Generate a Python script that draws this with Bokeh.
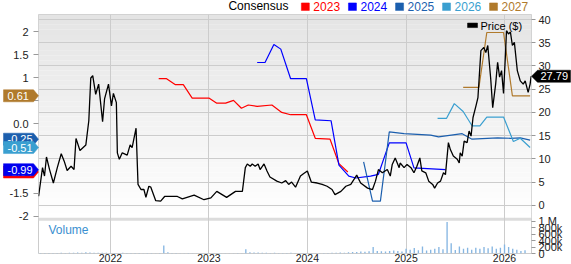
import numpy as np
from datetime import datetime
from bokeh.plotting import figure
from bokeh.models import (Range1d, LinearAxis, FixedTicker, DatetimeTickFormatter,
                          BoxAnnotation)
from bokeh.core.properties import value
from bokeh.embed import file_html
from bokeh.resources import INLINE

# ---------------- data ----------------
price_t = [2021.27, 2021.31, 2021.33, 2021.35, 2021.38, 2021.42, 2021.46, 2021.50, 2021.53, 2021.56,
           2021.60, 2021.63, 2021.65, 2021.69, 2021.75, 2021.78, 2021.80, 2021.82, 2021.85, 2021.88,
           2021.92, 2021.94, 2021.98, 2022.01, 2022.03, 2022.06, 2022.07, 2022.09, 2022.12, 2022.17,
           2022.20, 2022.22, 2022.26, 2022.28, 2022.31, 2022.34, 2022.36, 2022.39, 2022.41, 2022.46,
           2022.51, 2022.55, 2022.61, 2022.68, 2022.73, 2022.85, 2022.95, 2023.02, 2023.08, 2023.18,
           2023.27, 2023.34, 2023.37, 2023.39, 2023.42, 2023.44, 2023.47, 2023.50, 2023.52, 2023.56,
           2023.59, 2023.62, 2023.69, 2023.74, 2023.78, 2023.81, 2023.84, 2023.88, 2023.93, 2023.96,
           2024.00, 2024.04, 2024.10, 2024.15, 2024.20, 2024.25, 2024.28, 2024.34, 2024.39, 2024.44,
           2024.50, 2024.54, 2024.61, 2024.66, 2024.69, 2024.72, 2024.76, 2024.81, 2024.84, 2024.86,
           2024.89, 2024.93, 2024.94, 2024.98, 2025.01, 2025.05, 2025.08, 2025.11, 2025.14, 2025.16,
           2025.20, 2025.23, 2025.27, 2025.29, 2025.32, 2025.35, 2025.38, 2025.40, 2025.43, 2025.45,
           2025.48, 2025.52, 2025.54, 2025.55, 2025.57, 2025.59, 2025.62, 2025.64, 2025.66, 2025.68,
           2025.71, 2025.73, 2025.76, 2025.79, 2025.81, 2025.83, 2025.86, 2025.88, 2025.91, 2025.93,
           2025.95, 2025.97, 2025.99, 2026.01, 2026.02, 2026.04, 2026.06, 2026.08, 2026.10, 2026.13,
           2026.16, 2026.19, 2026.21, 2026.24, 2026.26, 2026.27]
price_v = [1.95, 8.1, 6.3, 10.4, 7.8, 4.8, 8.1, 11.1, 9.5, 7.5,
           8.4, 7.7, 14.4, 11.8, 13.0, 18.2, 27.4, 27.9, 23.9, 26.1,
           18.0, 22.9, 26.1, 21.4, 24.1, 22.1, 11.3, 9.9, 11.3, 10.8,
           13.0, 12.4, 16.6, 4.5, 3.4, 3.4, 1.7, 4.1, 3.9, 1.0,
           0.9, 1.9, 1.9, 1.9, 1.4, 2.2, 1.2, 1.6, 3.0, 1.7,
           3.0, 3.0, 8.1, 8.9, 8.4, 8.9, 8.4, 8.9, 7.7, 8.9,
           7.4, 6.1, 5.2, 4.8, 5.3, 4.5, 5.0, 3.9, 6.3, 6.8,
           7.4, 5.0, 4.8, 4.5, 4.1, 3.4, 2.3, 3.0, 4.1, 4.5,
           6.5, 4.8, 3.7, 3.4, 5.2, 7.7, 7.0, 7.7, 6.3, 8.8,
           10.2, 8.1, 9.1, 8.1, 8.8, 8.1, 7.0, 8.4, 10.2, 7.4,
           7.0, 5.2, 4.5, 3.7, 4.8, 5.2, 7.0, 6.6, 13.5, 12.0,
           10.6, 9.9, 9.1, 11.3, 10.6, 13.8, 13.5, 16.0, 14.9, 18.9,
           21.4, 23.2, 33.3, 34.0, 32.9, 34.4, 27.2, 21.0, 26.1, 30.8,
           27.6, 29.0, 24.1, 32.6, 37.6, 36.9, 37.3, 34.4, 35.1, 29.0,
           26.8, 26.1, 26.8, 24.3, 26.1, 27.79]

c2023_t = [2022.49, 2022.57, 2022.66, 2022.74, 2022.83, 2023.00, 2023.08, 2023.17, 2023.25, 2023.33,
           2023.40, 2023.49, 2023.64, 2023.74, 2023.83, 2023.99, 2024.08, 2024.23, 2024.32, 2024.41]
c2023_v = [0.98, 0.98, 0.85, 0.85, 0.56, 0.56, 0.45, 0.45, 0.51, 0.34,
           0.41, 0.38, 0.41, 0.25, 0.20, 0.20, -0.31, -0.33, -0.86, -1.04]
c2024_t = [2023.49, 2023.57, 2023.66, 2023.73, 2023.83, 2023.99, 2024.08, 2024.24, 2024.32, 2024.42,
           2024.49, 2024.64, 2024.72, 2024.83, 2025.00, 2025.08, 2025.40]
c2024_v = [1.33, 1.33, 1.72, 1.62, 0.98, 0.98, 0.09, 0.07, -0.89, -1.13,
           -1.17, -1.13, -1.09, -0.41, -0.41, -0.95, -0.99]
c2025_t = [2024.57, 2024.66, 2024.74, 2024.83, 2024.98, 2025.25, 2025.33, 2025.57, 2025.67, 2025.93,
           2026.06, 2026.16, 2026.26]
c2025_v = [-0.82, -1.67, -1.67, -0.17, -0.21, -0.24, -0.28, -0.21, -0.33, -0.30,
           -0.31, -0.30, -0.35]
c2026_t = [2025.32, 2025.41, 2025.49, 2025.58, 2025.67, 2025.75, 2025.82, 2025.99, 2026.09, 2026.16, 2026.26]
c2026_v = [0.12, 0.12, 0.44, 0.27, -0.04, -0.04, 0.15, 0.15, -0.38, -0.31, -0.51]
c2027_t = [2025.58, 2025.74, 2025.82, 2025.99, 2026.08, 2026.26]
c2027_v = [0.79, 0.79, 1.98, 1.98, 0.61, 0.61]

# volume, semi-monthly from 2021.25 (thousands of shares)
vol_start = 2021.25
vol_k = [20, 15, 12, 18, 15, 12, 20, 18, 25, 20, 30, 25,
         40, 30, 25, 20, 25, 20, 18, 15, 18, 20, 18, 15,
         15, 12, 10, 12, 15, 10, 12, 250, 40, 15, 12, 10,
         10, 12, 10, 8, 10, 12, 10, 10, 12, 10, 10, 8,
         10, 12, 10, 130, 40, 30, 35, 25, 20, 15, 20, 15,
         15, 12, 20, 15, 12, 15, 10, 12, 15, 10, 12, 15,
         20, 25, 30, 25, 40, 50, 45, 60, 55, 70, 200, 80,
         70, 60, 80, 90, 75, 60, 150, 120, 170, 100, 220, 90,
         120, 150, 200, 130, 980, 320, 110, 220, 150, 180, 120, 180,
         150, 200, 160, 220, 150, 180, 280, 200, 150, 120, 80, 100]

consensus = [("2023", c2023_t, c2023_v, "#ff0000"),
             ("2024", c2024_t, c2024_v, "#0000ff"),
             ("2025", c2025_t, c2025_v, "#1c5fae"),
             ("2026", c2026_t, c2026_v, "#3a9fd0"),
             ("2027", c2027_t, c2027_v, "#b07a2c")]

# badge text, badge position (EPS), colour; later entries are drawn on top
badges_left = [("0.61", 0.61, "#b07a2c"), ("-0.25", -0.33, "#1c5fae"), ("-0.51", -0.51, "#3a9fd0"),
               ("-1.04", -1.04, "#ff0000"), ("-0.99", -0.99, "#0000ee")]
last_price_txt = "27.79"

year_ticks = [2022, 2023, 2024, 2025, 2026]
eps_ticks = [-2, -1.5, -1, -0.5, 0, 0.5, 1, 1.5, 2]
eps_labels = {-2: "-2", -1.5: "-1.5", -1: "", -0.5: "", 0: "0.0", 0.5: "", 1: "1", 1.5: "1.5", 2: "2"}
price_ticks = [0, 5, 10, 15, 20, 25, 30, 35, 40]
vol_ticks = [0, 200000, 400000, 600000, 800000, 1000000]
vol_tick_text = ["0", "200k", "400k", "600k", "800k", "1 M"]

# ---------------- layout (pixel geometry of the reference) ----------------
FONT = "Liberation Sans"
W, H = 571, 264
FR_L, FR_R, FR_T, FR_B = 38, 531, 14, 252          # frame edges in canvas px
PANEL_B = 217                                         # bottom of price panel
X0_PX, PX_PER_YEAR = 110, 98.5                        # 2022-01-01 at x=110
P0_PX, PX_PER_PRICE = 204, 4.625                      # price 0 at y=204
E0_PX, PX_PER_EPS = 123, 46.0                         # eps 0 at y=123
V0_PX, PX_PER_MIO = FR_B, 32.0                        # volume 0 at frame bottom

def year_at(px): return 2022 + (px - X0_PX) / PX_PER_YEAR
def price_at(py): return (P0_PX - py) / PX_PER_PRICE
def eps_at(py): return (E0_PX - py) / PX_PER_EPS
def vol_at(py): return (V0_PX - py) / PX_PER_MIO * 1e6

def to_dt(d):
    y = int(np.floor(d))
    a, b = datetime(y, 1, 1), datetime(y + 1, 1, 1)
    return a + (b - a) * (d - y)

def ms(d):
    return to_dt(d).timestamp() * 1000.0

def xd(px): return to_dt(year_at(px))

PRICE_LO, PRICE_HI = price_at(FR_B), price_at(FR_T)
EPS_LO, EPS_HI = eps_at(FR_B), eps_at(FR_T)
VOL_HI = vol_at(FR_T)
GRID = "#cccccc"

p = figure(width=W, height=H, x_axis_type="datetime", y_axis_location="right",
           x_range=Range1d(xd(FR_L), xd(FR_R)), y_range=Range1d(PRICE_LO, PRICE_HI),
           min_border_top=FR_T, min_border_bottom=0, min_border_left=FR_L, min_border_right=W - FR_R,
           output_backend="svg", toolbar_location=None, outline_line_color=GRID,
           background_fill_color="white", border_fill_color="white")
p.extra_y_ranges = {"eps": Range1d(EPS_LO, EPS_HI), "vol": Range1d(0, VOL_HI)}

# background gradient of the price panel
nb = 40
edges = np.linspace(price_at(PANEL_B), PRICE_HI, nb + 1)
for i in range(nb):
    g = int(round(255 - (i + 0.5) / nb * 27))
    p.add_layout(BoxAnnotation(bottom=edges[i], top=edges[i + 1], fill_color=(g, g, g),
                               fill_alpha=1.0, line_alpha=0, level="image"))
p.add_layout(BoxAnnotation(bottom=price_at(PANEL_B + 2.5), top=price_at(PANEL_B - 0.5),
                           fill_color="#dcdcdc", fill_alpha=1.0, line_alpha=0, level="image"))

year_ms = [ms(y) for y in year_ticks]
p.xgrid.ticker = FixedTicker(ticks=year_ms)
p.ygrid.ticker = FixedTicker(ticks=price_ticks)
p.xgrid.grid_line_color = GRID
p.ygrid.grid_line_color = GRID

# right axis: price ticks + volume ticks (volume mapped into the price scale)
vol_pos = [round(PRICE_LO + vt / VOL_HI * (PRICE_HI - PRICE_LO), 6) for vt in vol_ticks]
ra = p.yaxis[0]
ra.ticker = FixedTicker(ticks=price_ticks + vol_pos)
ra.major_label_overrides = {vp: t for vp, t in zip(vol_pos, vol_tick_text)}
ra.axis_line_color = None
ra.major_tick_line_color = "#999999"
ra.major_tick_out = 4
ra.major_tick_in = 0
ra.minor_tick_line_color = None
ra.major_label_standoff = 3
ra.major_label_text_font = FONT
ra.major_label_text_font_size = "11px"
ra.major_label_text_color = "#222222"

la = LinearAxis(y_range_name="eps", ticker=FixedTicker(ticks=eps_ticks),
                major_label_overrides=eps_labels)
la.axis_line_color = None
la.major_tick_line_color = "#999999"
la.major_tick_out = 5
la.major_tick_in = 0
la.minor_tick_line_color = None
la.major_label_standoff = 5
la.major_label_text_font = FONT
la.major_label_text_font_size = "11px"
la.major_label_text_color = "#222222"
p.add_layout(la, "left")

xa = p.xaxis[0]
xa.ticker = FixedTicker(ticks=year_ms)
xa.formatter = DatetimeTickFormatter(years="%Y", months="%Y", days="%Y")
xa.axis_line_color = None
xa.major_tick_out = 0
xa.major_tick_in = 0
xa.minor_tick_line_color = None
xa.major_label_standoff = 0
xa.major_label_text_font = FONT
xa.major_label_text_font_size = "10.5px"
xa.major_label_text_color = "#222222"

# volume bars
vol_dates = [to_dt(vol_start + i / 24.0) for i in range(len(vol_k))]
p.vbar(x=vol_dates, top=[k * 1000 for k in vol_k], width=5 * 86400000, y_range_name="vol",
       fill_color="#86b6e2", line_color=None)

# consensus lines and price
for name, t, v, col in consensus:
    p.line([to_dt(d) for d in t], v, y_range_name="eps", line_color=col, line_width=1.2)
p.line([to_dt(d) for d in price_t], price_v, line_color="black", line_width=1.3)

# ---------------- badges and legends (overlay glyphs, drawn outside the frame) ----------------
def shape(xs_px, ys, col, y_range="default"):
    r = p.patch([xd(x) for x in xs_px], ys, fill_color=col, line_color=col, line_width=0.5,
                y_range_name=y_range)
    r.level = "overlay"

def text(x_px, y, s, col, size, y_range="default", align="left"):
    r = p.text(x=[xd(x_px)], y=[y], text=[s], text_color=col, text_font=value(FONT),
               text_font_size=size, text_baseline="middle", text_align=align, y_range_name=y_range)
    r.level = "overlay"

h_eps = 6 / PX_PER_EPS
for txt, val, col in badges_left:
    shape([3, 33, 38, 33, 3], [val + h_eps, val + h_eps, val, val - h_eps, val - h_eps], col, "eps")
    text(7, val, txt, "white", "11px", "eps")

lp = price_v[-1]
h_pr = 6 / PX_PER_PRICE
shape([531, 537, 570, 570, 537], [lp, lp + h_pr, lp + h_pr, lp - h_pr, lp - h_pr], "black")
text(540, lp, last_price_txt, "white", "11px")

# top legend
ty = price_at(6)
text(228, ty, "Consensus", "black", "12px")
lx = 301
for name, t, v, col in consensus:
    shape([lx, lx + 8, lx + 8, lx], [price_at(10), price_at(10), price_at(2.5), price_at(2.5)], col)
    text(lx + 12, ty, name, col, "12px")
    lx += 47

# price legend
shape([467, 477, 477, 467], [price_at(27), price_at(27), price_at(22.5), price_at(22.5)], "black")
text(480, price_at(25), "Price ($)", "black", "11px")

# volume caption
text(48, price_at(229), "Volume", "#3a8fd0", "12px")

open("out.html", "w").write(file_html(p, INLINE))
